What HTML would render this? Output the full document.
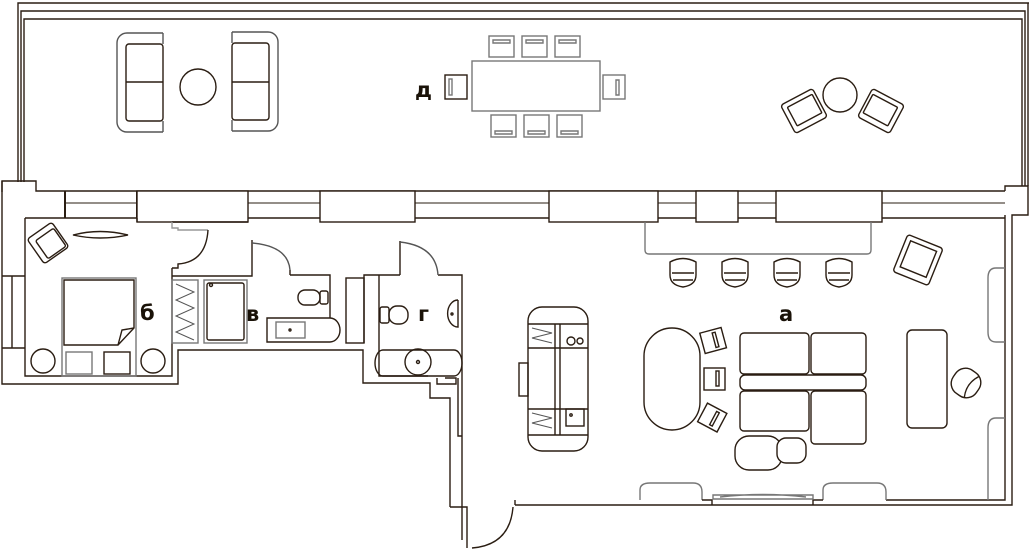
<!DOCTYPE html>
<html><head><meta charset="utf-8"><style>
html,body{margin:0;padding:0;background:#fff;width:1029px;height:550px;overflow:hidden}
svg{display:block}
text{font-family:"DejaVu Sans","Liberation Sans",sans-serif;font-weight:bold;font-size:21px;fill:#1a1208}
</style></head><body>
<svg width="1029" height="550" viewBox="0 0 1029 550" fill="none" stroke="#2a1d12" stroke-width="1.4">
<!-- terrace -->
<path d="M18 182 V3 H1029"/>
<path d="M21 182 V11 H1025 V186"/>
<path d="M24 182 V19 H1022 V186"/>
<path d="M1028 3 V186"/>
<!-- exterior wall band -->
<path d="M2 192 V181 H36 V191 H1005"/>
<path d="M1005 191 V186 H1028 V215 H1012 V505 H515"/>
<path d="M1005 215 V500 H886"/>
<path d="M65 203 H1005" stroke-width="1"/>
<path d="M65 191 V218 M137 191 V218" stroke-width="2"/>
<rect x="137" y="191" width="111" height="31" fill="#fff"/>
<rect x="320" y="191" width="95" height="31" fill="#fff"/>
<rect x="549" y="191" width="109" height="31" fill="#fff"/>
<rect x="696" y="191" width="42" height="31" fill="#fff"/>
<rect x="776" y="191" width="106" height="31" fill="#fff"/>
<path d="M248 218 H320 M415 218 H549 M658 218 H696 M738 218 H776 M882 218 H1005"/>
<path d="M25 218 H137 M137 218 V222 M172 222 H248"/>
<path d="M172 222 V228 H178 V230 H208" stroke="#999"/>
<!-- left walls -->
<path d="M2 181 V384 H178 V350 H363 V383 H430 V398 H450 V507"/>
<path d="M25 218 V376 H172 V268"/>
<path d="M2 276 H25 M12 276 V348 M2 348 H25"/>
<!-- bedroom door -->
<path d="M172 268 H178 V264 Q206 262 208 230" />
<!-- interior walls -->
<path d="M172 276 H252 V240 M290 275 V270 M290 275 H330 V318"/>
<path d="M252 243 Q288 246 290 270" stroke="#555"/>
<path d="M400 275 H364 V343 M400 275 V241 M438 275 H462 V540"/>
<path d="M400 242 Q436 246 438 275" stroke="#555"/>
<path d="M379 275 V376 H428"/>
<path d="M445 378 H456 V384 H437 V378"/>
<path d="M458 378 V436 H462"/>
<path d="M450 507 H467 V548 M472 548 Q510 545 513 507"/>
<path d="M515 505 V500"/>
<!-- closet -->
<rect x="172" y="280" width="26" height="63" stroke="#777"/>
<path d="M176 284 L194 292 L176 300 L194 308 L176 316 L194 324 L176 332 L194 340" stroke="#555" stroke-width="1"/>
<!-- tub в -->
<rect x="204" y="280" width="43" height="63" stroke="#777"/>
<rect x="207" y="283" width="37" height="57" rx="2"/>
<circle cx="211" cy="285" r="1.5"/>
<!-- toilet в -->
<rect x="298" y="290" width="22" height="15" rx="7"/>
<rect x="320" y="291" width="8" height="13" rx="2"/>
<path d="M267 318 H330 A10 12 0 0 1 330 342 H267 Z"/>
<rect x="276" y="322" width="29" height="16" stroke="#777"/>
<circle cx="290" cy="330" r="1"/>
<rect x="346" y="278" width="18" height="65"/>
<!-- г -->
<rect x="380" y="307" width="9" height="16" rx="2"/>
<rect x="389" y="306" width="19" height="18" rx="8"/>
<path d="M458 300 V327 A10 13 0 0 1 458 300" />
<circle cx="452" cy="314" r="1"/>
<path d="M383 350 H454 A8 13 0 0 1 454 376 H383 A8 13 0 0 1 383 350 Z"/>
<circle cx="418" cy="362" r="13"/>
<circle cx="418" cy="362" r="1.5"/>
<!-- bedroom furniture -->
<rect x="33" y="228" width="30" height="30" rx="3" transform="rotate(-35 48 243)"/>
<rect x="39" y="234" width="22" height="22" rx="2" transform="rotate(-35 48 243)"/>
<path d="M73 235 Q100 228 128 235 Q100 241 73 235Z"/>
<rect x="62" y="278" width="74" height="98" stroke="#777"/>
<path d="M64 280 H134 V328 L118 345 H64 Z"/>
<path d="M118 345 L122 330 L134 328" />
<circle cx="43" cy="361" r="12"/>
<circle cx="153" cy="361" r="12"/>
<rect x="66" y="352" width="26" height="22" stroke="#777"/>
<rect x="104" y="352" width="26" height="22"/>
<!-- terrace furniture -->
<path d="M163 33 H127 A10 10 0 0 0 117 43 V122 A10 10 0 0 0 127 132 H163 M163 33 V44 M163 121 V132" stroke="#555"/>
<rect x="126" y="44" width="37" height="77" rx="3"/>
<path d="M126 82 H163"/>
<path d="M232 32 H268 A10 10 0 0 1 278 42 V121 A10 10 0 0 1 268 131 H232 M232 32 V43 M232 120 V131" stroke="#555"/>
<rect x="232" y="43" width="37" height="77" rx="3"/>
<path d="M232 82 H269"/>
<circle cx="198" cy="87" r="18"/>
<rect x="472" y="61" width="128" height="50" stroke="#777"/>
<g stroke="#777">
<rect x="489" y="36" width="25" height="21"/><rect x="522" y="36" width="25" height="21"/><rect x="555" y="36" width="25" height="21"/>
<rect x="491" y="115" width="25" height="22"/><rect x="524" y="115" width="25" height="22"/><rect x="557" y="115" width="25" height="22"/>
<rect x="603" y="75" width="22" height="24"/>
<path d="M493 40 h17 v3 h-17z M526 40 h17 v3 h-17z M559 40 h17 v3 h-17z M495 131 h17 v3 h-17z M528 131 h17 v3 h-17z M561 131 h17 v3 h-17z M619 80 v15 h-3 v-15z"/>
</g>
<rect x="445" y="75" width="22" height="24"/>
<rect x="449" y="79" width="3" height="16" stroke="#777"/>
<circle cx="840" cy="95" r="17"/>
<g transform="rotate(-28 804 111)"><rect x="786" y="95" width="36" height="32" rx="3"/><rect x="791" y="100" width="28" height="21" rx="1"/></g>
<g transform="rotate(28 881 111)"><rect x="863" y="95" width="36" height="32" rx="3"/><rect x="866" y="100" width="28" height="21" rx="1"/></g>
<!-- main room -->
<path d="M645 222 V250 Q645 254 649 254 H867 Q871 254 871 250 V222" stroke="#777"/>
<g id="st"><path d="M670 262 Q683 255 696 262 V275 Q696 285 683 287 Q670 285 670 275 Z"/><path d="M672 273 H694 M673 280 H693"/></g>
<use href="#st" x="52"/><use href="#st" x="104"/><use href="#st" x="156"/>
<g transform="rotate(22 918 260)"><rect x="899" y="240" width="38" height="40" rx="3"/><rect x="904" y="245" width="28" height="28"/></g>
<rect x="528" y="307" width="60" height="144" rx="14"/>
<path d="M528 324 H588 M528 348 H588 M528 409 H588 M528 435 H588 M555 324 V435 M560 324 V435"/>
<path d="M532 328 L552 333 L532 338 L552 343 M532 413 L552 418 L532 423 L552 428" stroke="#555" stroke-width="1"/>
<circle cx="571" cy="341" r="4"/><circle cx="580" cy="341" r="3"/>
<rect x="566" y="409" width="18" height="17"/><circle cx="571" cy="415" r="1.2"/>
<rect x="519" y="363" width="9" height="33"/>
<rect x="644" y="328" width="56" height="102" rx="28"/>
<g transform="rotate(-15 713 340)"><rect x="702" y="330" width="22" height="21"/><rect x="714" y="333" width="3" height="15"/></g>
<rect x="704" y="368" width="21" height="22"/><rect x="716" y="371" width="3" height="15"/>
<g transform="rotate(28 712 418)"><rect x="701" y="407" width="22" height="21"/><rect x="713" y="410" width="3" height="15"/></g>
<rect x="740" y="333" width="69" height="41" rx="4"/>
<rect x="811" y="333" width="55" height="41" rx="4"/>
<rect x="740" y="375" width="126" height="15" rx="5"/>
<rect x="740" y="391" width="69" height="40" rx="4"/>
<rect x="811" y="391" width="55" height="53" rx="4"/>
<rect x="735" y="436" width="47" height="34" rx="14"/>
<rect x="777" y="438" width="29" height="25" rx="9" fill="#fff"/>
<rect x="907" y="330" width="40" height="98" rx="5"/>
<g transform="rotate(35 966 383)"><rect x="952" y="369" width="28" height="28" rx="12"/><path d="M973 370 Q966 383 973 396"/></g>
<path d="M1005 268 H996 Q988 268 988 278 V332 Q988 342 996 342 H1005" stroke="#777"/>
<path d="M1005 418 H996 Q988 418 988 428 V500" stroke="#777"/>
<path d="M640 500 V490 Q640 483 650 483 H693 Q702 483 702 492 V500" stroke="#777"/>
<path d="M823 500 V490 Q823 483 833 483 H877 Q886 483 886 492 V500" stroke="#777"/>
<path d="M702 500 H712 V505 M813 505 V500 H823"/>
<path d="M713 495 H813 V499 H713Z M720 497 Q763 492 806 497" stroke="#777"/>
</g>
<g stroke="none">
<text x="140" y="320">б</text>
<text x="246" y="321">в</text>
<text x="418" y="321">г</text>
<text x="415" y="97">д</text>
<text x="779" y="321">а</text>
</g>
</svg>
</body></html>
